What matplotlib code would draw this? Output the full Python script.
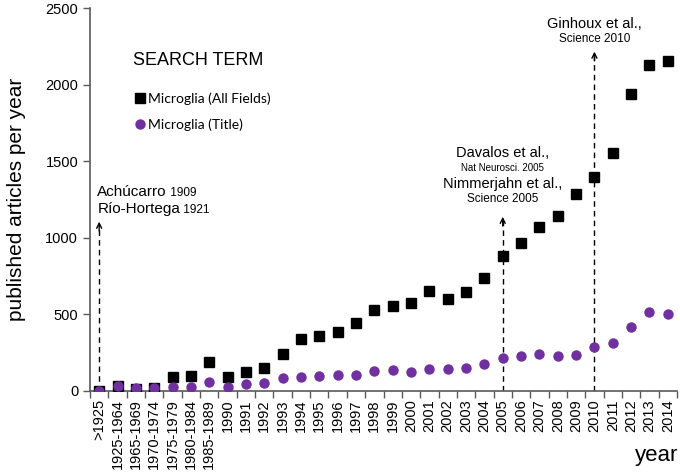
import matplotlib.pyplot as plt
import numpy as np

plt.rcParams['font.family'] = ['Liberation Sans', 'DejaVu Sans']

# categories on the x axis
categories = ['>1925', '1925-1964', '1965-1969', '1970-1974', '1975-1979',
              '1980-1984', '1985-1989'] + [str(y) for y in range(1990, 2015)]

# articles per year, search "Microglia" in all fields
all_fields = [0, 35, 10, 20, 93, 100, 191, 89, 124, 152, 240, 341, 357, 383,
              446, 529, 555, 572, 653, 599, 648, 736, 881, 968, 1068, 1144,
              1286, 1399, 1551, 1937, 2128, 2152]

# articles per year, "Microglia" in title
title_only = [2, 33, 18, 22, 28, 24, 61, 24, 46, 54, 85, 89, 100, 106, 106,
              128, 137, 122, 146, 146, 152, 174, 217, 228, 240, 230, 233, 285,
              311, 416, 514, 505]

# milestone arrows: category and arrow tip height
arrow_cats = ['>1925', '2005', '2010']
arrow_tops = [1105, 1137, 2215]

purple = '#7030A0'
axis_grey = '#595959'

x = np.arange(len(categories))

fig = plt.figure(figsize=(6.8, 4.72), dpi=100)
ax = fig.add_axes([90 / 680, 81 / 472, 587 / 680, 383 / 472])

ax.plot(x, all_fields, 's', color='black', markersize=7, label='Microglia (All Fields)', zorder=3)
ax.plot(x, title_only, 'o', color=purple, markersize=7.5, markeredgewidth=0,
        label='Microglia (Title)', zorder=4)

# dashed arrows
for cat, top in zip(arrow_cats, arrow_tops):
    xi = categories.index(cat)
    ax.plot([xi, xi], [0, top - 20], '--', color='black', lw=1, dashes=(4, 3), zorder=2)
    ax.annotate('', xy=(xi, top), xytext=(xi, top - 60),
                arrowprops=dict(arrowstyle='->', color='black', lw=1,
                                mutation_scale=9, shrinkA=0, shrinkB=0))

# annotation texts
t1 = ax.text(-0.1, 1301, 'Achúcarro', fontsize=11, ha='left', va='center')
ax.annotate(' 1909', xy=(1, 0), xycoords=t1, fontsize=8.5, ha='left', va='bottom')
t2 = ax.text(-0.1, 1188, 'Río-Hortega', fontsize=11, ha='left', va='center')
ax.annotate(' 1921', xy=(1, 0), xycoords=t2, fontsize=8.5, ha='left', va='bottom')

ax.text(22, 1553, 'Davalos et al.,', fontsize=10.5, ha='center', va='center')
ax.text(22, 1458, 'Nat Neurosci. 2005', fontsize=7, ha='center', va='center')
ax.text(22, 1351, 'Nimmerjahn et al.,', fontsize=10.5, ha='center', va='center')
ax.text(22, 1253, 'Science 2005', fontsize=8.5, ha='center', va='center')

ax.text(27, 2396, 'Ginhoux et al.,', fontsize=10.5, ha='center', va='center')
ax.text(27, 2298, 'Science 2010', fontsize=8.5, ha='center', va='center')

# legend
leg = ax.legend(loc='upper left', bbox_to_anchor=(0.062, 0.904), frameon=False,
                title='SEARCH TERM', alignment='left', handletextpad=0.05,
                handlelength=1.0, labelspacing=1.0, borderpad=0,
                prop={'family': 'Lato', 'size': 10},
                title_fontproperties={'size': 13})
leg._legend_box.sep = 17

ax.set_xlim(-0.5, len(categories) - 0.5)
ax.set_ylim(0, 2500)
ax.set_yticks([0, 500, 1000, 1500, 2000, 2500])
ax.set_xticks(x)
ax.set_xticklabels(categories, rotation=90)
ax.set_xticks(np.arange(len(categories) + 1) - 0.5, minor=True)
ax.tick_params(axis='x', which='major', length=0, pad=6, labelsize=10.5)
ax.tick_params(axis='x', which='minor', length=5, direction='out', color=axis_grey, width=1)
ax.tick_params(axis='y', length=5, color=axis_grey, width=1, labelsize=10.5)

for side in ['top', 'right']:
    ax.spines[side].set_visible(False)
for side in ['left', 'bottom']:
    ax.spines[side].set_color(axis_grey)
    ax.spines[side].set_linewidth(1.2)

ax.set_ylabel('published articles per year', fontsize=15)
ax.yaxis.set_label_coords(-0.109, 0.5)
fig.text(678 / 680, 1 - 455 / 472, 'year', fontsize=16, ha='right', va='center')

fig.savefig('out.png', dpi=100)
